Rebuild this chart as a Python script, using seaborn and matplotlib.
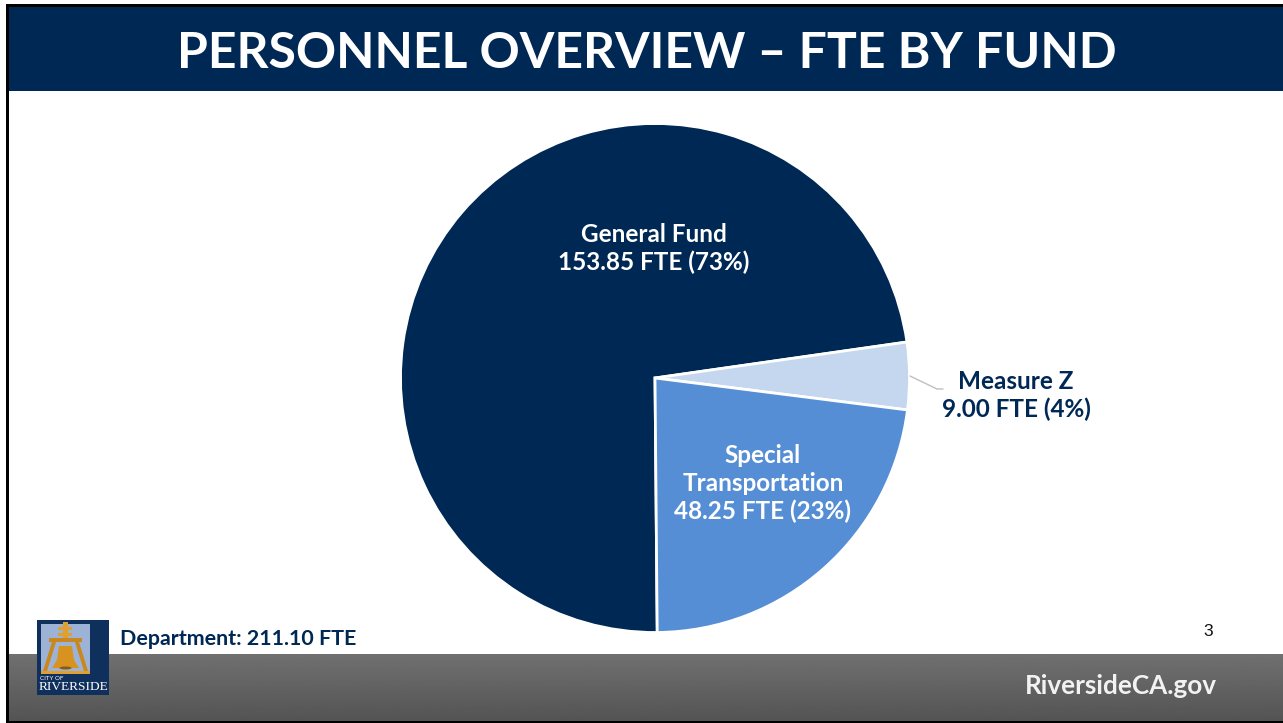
import numpy as np
import seaborn as sns
import matplotlib.pyplot as plt
from matplotlib.patches import Rectangle, Polygon, Ellipse

funds = ["General Fund", "Measure Z", "Special Transportation"]
fte = [153.85, 9.00, 48.25]
fund_colors = ["#002855", "#C5D7EF", "#558ED5"]

title = "PERSONNEL OVERVIEW – FTE BY FUND"
total_label = "Department: 211.10 FTE"
site_label = "RiversideCA.gov"
page_number = "3"

NAVY = "#002855"
W, H = 1283, 723

sns.set_theme(style="white")
plt.rcParams["font.family"] = ["Lato", "DejaVu Sans"]

fig = plt.figure(figsize=(W / 100, H / 100), dpi=100, facecolor="white")

# page furniture in pixel coordinates
bg = fig.add_axes([0, 0, 1, 1], zorder=0)
bg.axis("off")

grad = np.linspace(0.44, 0.33, 60).reshape(-1, 1)
bg.imshow(grad, extent=[8, W, 721, 654], cmap="gray", vmin=0, vmax=1, aspect="auto", zorder=1)
bg.set_xlim(0, W)
bg.set_ylim(H, 0)
bg.add_patch(Rectangle((8, 7), W - 8, 84, color=NAVY, lw=0, zorder=1))
bg.add_patch(Rectangle((6, 4), W - 6, 3, color="black", lw=0, zorder=2))
bg.add_patch(Rectangle((6, 4), 2.5, 718, color="black", lw=0, zorder=2))
bg.add_patch(Rectangle((6, 720.5), W - 6, 2.5, color="black", lw=0, zorder=2))

bg.text(646.5, 49, title, color="white", fontsize=35.9, fontweight="bold", ha="center", va="center_baseline")
bg.text(120, 639, total_label, color=NAVY, fontsize=15.4, fontweight="bold", ha="left", va="center")
bg.text(1208, 632, page_number, color="#111111", fontsize=12.5, family="Liberation Sans", ha="center", va="center")
bg.text(1217, 686, site_label, color="#F2F2F2", fontsize=18.8, fontweight="bold", ha="right", va="center")

# logo
bg.add_patch(Rectangle((37, 620), 72, 75, color="#0F2F5C", lw=0, zorder=3))
bg.add_patch(Rectangle((41, 624), 49, 50, color="#9DB3D6", lw=0, zorder=3))
GOLD = "#C9871F"
bg.add_patch(Rectangle((62.5, 622), 5, 17, color="#E0A030", lw=0, zorder=4))
bg.add_patch(Rectangle((58, 627), 14, 3, color="#E0A030", lw=0, zorder=4))
bg.add_patch(Rectangle((58, 633), 14, 3, color="#E0A030", lw=0, zorder=4))
bg.add_patch(Rectangle((49, 638), 33, 4, color=GOLD, lw=0, zorder=4))
bg.add_patch(Polygon([(52, 642), (56, 642), (47, 671), (43, 671)], color=GOLD, lw=0, zorder=4))
bg.add_patch(Polygon([(75, 642), (79, 642), (88, 671), (84, 671)], color=GOLD, lw=0, zorder=4))
bg.add_patch(Rectangle((41, 671), 49, 3, color="#E0A030", lw=0, zorder=4))
bg.add_patch(Polygon([(59, 646), (72, 646), (74, 660), (79, 668), (52, 668), (57, 660)], color="#D8921F", lw=0, zorder=4))
bg.add_patch(Ellipse((65.5, 668), 12, 3, color="#8A5A14", lw=0, zorder=4))
bg.text(40, 679, "CITY OF", color="white", fontsize=4.5, ha="left", va="center", zorder=5)
bg.text(73.5, 687.5, "RIVERSIDE", color="white", fontsize=9.6, family="Liberation Serif", ha="center", va="center", zorder=5)

# pie
cx, cy, r = 655, 378, 254.5
ax = fig.add_axes([(cx - r) / W, (H - cy - r) / H, 2 * r / W, 2 * r / H], zorder=2)
ax.pie(fte, colors=fund_colors, startangle=270.5, counterclock=False,
       wedgeprops={"edgecolor": "white", "linewidth": 2})
ax.set_xlim(-1, 1)
ax.set_ylim(-1, 1)
for w in ax.patches:
    w.set_clip_on(False)

# labels on top of the pie
top = fig.add_axes([0, 0, 1, 1], zorder=3)
top.set_xlim(0, W)
top.set_ylim(H, 0)
top.axis("off")
top.patch.set_alpha(0)

top.text(654, 248.5, f"{funds[0]}\n{fte[0]:.2f} FTE (73%)", color="white", fontsize=17.5, fontweight="bold",
         ha="center", va="center", linespacing=1.27)
top.text(1016, 395.5, f"{funds[1]}\n{fte[1]:.2f} FTE (4%)", color=NAVY, fontsize=17.5, fontweight="bold",
         ha="center", va="center", linespacing=1.27)
top.text(763, 483.5, f"Special\nTransportation\n{fte[2]:.2f} FTE (23%)", color="white", fontsize=17.5, fontweight="bold",
         ha="center", va="center", linespacing=1.27)
top.plot([910, 937, 943], [376, 389, 389], color="#BFBFBF", lw=1)

fig.savefig("out.png", dpi=100)
